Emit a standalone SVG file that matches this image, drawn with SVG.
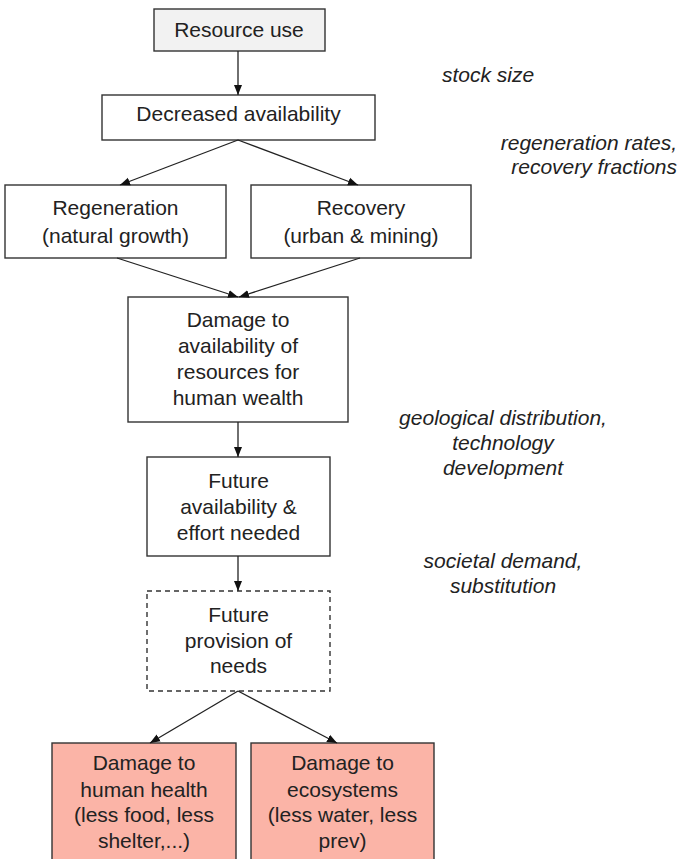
<svg xmlns="http://www.w3.org/2000/svg" width="678" height="859" viewBox="0 0 678 859">
<style>
text{font-family:"Liberation Sans",Arial,sans-serif;font-size:21px;fill:#222;text-anchor:middle}
.lbl{font-style:italic}
.box{fill:#fff;stroke:#333;stroke-width:1.4}
.gray{fill:#f2f2f2}
.dash{stroke-dasharray:5,4}
.red{fill:#fbb4a7}
.con line{stroke:#222;stroke-width:1.3;marker-end:url(#ah)}
</style>
<defs>
<marker id="ah" viewBox="0 0 10 10" refX="10" refY="5" markerWidth="10" markerHeight="10" markerUnits="userSpaceOnUse" orient="auto">
<path d="M0,1 L10,5 L0,9 Z" fill="#111"/>
</marker>
</defs>
<g id="n_resource_use"><rect class="box gray" x="154" y="9" width="171" height="42"/><text x="239" y="37">Resource use</text></g>
<g id="n_decreased"><rect class="box" x="102" y="95" width="273" height="45"/><text x="238.5" y="121">Decreased availability</text></g>
<g id="n_regeneration"><rect class="box" x="5" y="185" width="221" height="73"/><text x="115.5" y="215">Regeneration</text><text x="115.5" y="243">(natural growth)</text></g>
<g id="n_recovery"><rect class="box" x="251" y="185" width="220" height="73"/><text x="361" y="215">Recovery</text><text x="361" y="243">(urban &amp; mining)</text></g>
<g id="n_damage_avail"><rect class="box" x="128" y="297" width="220" height="125"/><text x="238" y="327">Damage to</text><text x="238" y="353">availability of</text><text x="238" y="379">resources for</text><text x="238" y="405">human wealth</text></g>
<g id="n_future_avail"><rect class="box" x="147" y="457" width="183" height="99"/><text x="238.5" y="488">Future</text><text x="238.5" y="514">availability &amp;</text><text x="238.5" y="540">effort needed</text></g>
<g id="n_future_prov"><rect class="box dash" x="147" y="591" width="183" height="100"/><text x="238.5" y="622">Future</text><text x="238.5" y="648">provision of</text><text x="238.5" y="673">needs</text></g>
<g id="n_health"><rect class="box red" x="52" y="743" width="184" height="130"/><text x="144" y="770">Damage to</text><text x="144" y="797">human health</text><text x="144" y="822">(less food, less</text><text x="144" y="848">shelter,...)</text></g>
<g id="n_eco"><rect class="box red" x="251" y="743" width="183" height="130"/><text x="342.5" y="770">Damage to</text><text x="342.5" y="797">ecosystems</text><text x="342.5" y="822">(less water, less</text><text x="342.5" y="848">prev)</text></g>
<g id="labels">
<text class="lbl" x="488" y="82">stock size</text>
<text class="lbl" x="677" y="150" style="text-anchor:end">regeneration rates,</text>
<text class="lbl" x="677" y="174" style="text-anchor:end">recovery fractions</text>
<text class="lbl" x="503" y="425">geological distribution,</text>
<text class="lbl" x="503" y="450">technology</text>
<text class="lbl" x="503" y="475">development</text>
<text class="lbl" x="503" y="568">societal demand,</text>
<text class="lbl" x="503" y="593">substitution</text>
</g>
<g id="connectors" class="con">
<line x1="238" y1="51" x2="238" y2="95"/>
<line x1="238" y1="140" x2="120" y2="185"/>
<line x1="238" y1="140" x2="358" y2="185"/>
<line x1="117" y1="258" x2="238" y2="297"/>
<line x1="360" y1="258" x2="239" y2="297"/>
<line x1="238" y1="422" x2="238" y2="457"/>
<line x1="238" y1="556" x2="238" y2="591"/>
<line x1="238" y1="691" x2="150" y2="743"/>
<line x1="238" y1="691" x2="337" y2="743"/>
</g>
</svg>
